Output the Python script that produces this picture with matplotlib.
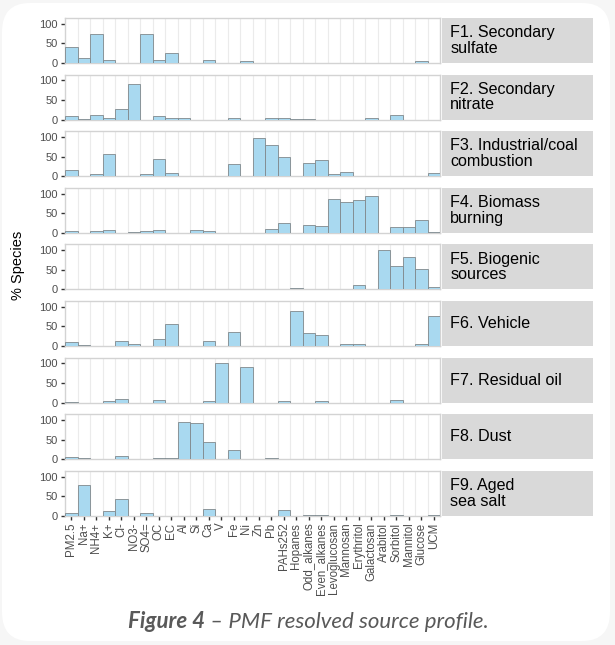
import matplotlib
matplotlib.use('Agg')
import matplotlib.pyplot as plt
from matplotlib.patches import FancyBboxPatch
import numpy as np

plt.rcParams['font.family'] = ['Liberation Sans', 'DejaVu Sans']

# ============ ДАННЫЕ ============
species = ['PM2.5', 'Na+', 'NH4+', 'K+', 'Cl-', 'NO3-', 'SO4=', 'OC', 'EC', 'Al',
           'Si', 'Ca', 'V', 'Fe', 'Ni', 'Zn', 'Pb', 'PAHs252', 'Hopanes',
           'Odd_alkanes', 'Even_alkanes', 'Levoglucosan', 'Mannosan', 'Erythritol',
           'Galactosan', 'Arabitol', 'Sorbitol', 'Mannitol', 'Glucose', 'UCM']

factor_labels = ['F1. Secondary\nsulfate', 'F2. Secondary\nnitrate',
                 'F3. Industrial/coal\ncombustion', 'F4. Biomass\nburning',
                 'F5. Biogenic\nsources', 'F6. Vehicle', 'F7. Residual oil',
                 'F8. Dust', 'F9. Aged\nsea salt']

f1 = [40, 12, 75, 8, 0, 0, 75, 8, 25, 0, 0, 8, 0, 0, 5, 0, 0, 0, 0, 0, 0, 0, 0, 0, 0, 0, 0, 0, 5, 0]
f2 = [10, 2, 12, 5, 27, 92, 0, 8, 5, 3, 0, 0, 0, 5, 0, 0, 3, 4, 2, 2, 0, 0, 0, 0, 4, 0, 13, 0, 0, 0]
f3 = [15, 0, 5, 58, 0, 0, 6, 43, 8, 0, 0, 0, 0, 32, 0, 97, 80, 50, 0, 35, 42, 6, 10, 0, 0, 0, 0, 0, 0, 8]
f4 = [5, 0, 5, 7, 0, 2, 5, 8, 0, 0, 7, 4, 0, 0, 0, 0, 10, 24, 0, 20, 17, 87, 78, 83, 95, 0, 15, 16, 32, 2]
f5 = [0, 0, 1, 0, 0, 0, 2, 0, 1, 0, 0, 2, 0, 1, 0, 0, 0, 0, 3, 1, 0, 0, 0, 11, 0, 100, 60, 82, 53, 5]
f6 = [9, 3, 0, 0, 12, 4, 1, 19, 57, 0, 0, 14, 0, 35, 1, 1, 0, 0, 90, 33, 28, 1, 4, 4, 0, 0, 0, 0, 6, 77]
f7 = [1, 0, 0, 5, 8, 0, 0, 7, 0, 0, 0, 5, 100, 0, 90, 0, 0, 3, 0, 0, 3, 0, 0, 0, 0, 0, 7, 0, 0, 0]
f8 = [6, 2, 0, 0, 7, 0, 0, 3, 2, 95, 92, 44, 0, 23, 0, 0, 3, 0, 0, 0, 0, 0, 1, 0, 0, 0, 0, 0, 0, 0]
f9 = [8, 78, 0, 12, 43, 0, 7, 0, 0, 0, 0, 18, 0, 0, 0, 0, 0, 15, 0, 2, 2, 0, 0, 0, 0, 0, 2, 0, 0, 1]

profiles = [f1, f2, f3, f4, f5, f6, f7, f8, f9]

# ============ ГЕОМЕТРИЯ (пиксели) ============
W, H = 615, 645
PANEL_L, PANEL_R = 65, 440
STRIP_L, STRIP_R = 442, 593
TOP0, PANEL_H, STEP = 18, 45, 56.6

fig = plt.figure(figsize=(W / 100, H / 100), dpi=100)
fig.patch.set_facecolor('#f6f6f6')

# белая подложка со скруглёнными углами
box = FancyBboxPatch((2 / W, 4 / H), 608 / W, 638 / H,
                     boxstyle='round,pad=0,rounding_size=0.045',
                     transform=fig.transFigure, facecolor='white',
                     edgecolor='none', zorder=-10)
fig.add_artist(box)

x = np.arange(len(species))

for i, (vals, lab) in enumerate(zip(profiles, factor_labels)):
    top = TOP0 + STEP * i
    bottom = top + PANEL_H
    ax = fig.add_axes([PANEL_L / W, 1 - bottom / H,
                       (PANEL_R - PANEL_L) / W, PANEL_H / H])
    vals = np.array(vals, dtype=float)
    nz = vals > 0
    ax.bar(x[nz], vals[nz], width=1.0, color='#a9d9f0',
           edgecolor='#80888c', linewidth=0.6, zorder=3)
    ax.set_xlim(-0.5, len(species) - 0.5)
    ax.set_ylim(0, 115)
    ax.set_yticks([0, 50, 100])
    ax.set_yticklabels(['0', '50', '100'], fontsize=8, color='#4d4d4d')
    ax.tick_params(axis='y', length=3, width=1, color='#333333', pad=2)
    # вертикальная сетка по границам столбцов
    for b in np.arange(0.5, len(species) - 0.5, 1):
        ax.axvline(b, color='#ebebeb', linewidth=0.8, zorder=1)
    for s in ax.spines.values():
        s.set_color('#d3d3d3')
        s.set_linewidth(1.0)
    ax.set_xticks(x)
    if i == len(profiles) - 1:
        ax.set_xticklabels(species, rotation=90, fontsize=8.3, color='#4d4d4d')
        ax.tick_params(axis='x', length=3, width=1, color='#333333', pad=2)
    else:
        ax.set_xticklabels([])
        ax.tick_params(axis='x', length=0)

    # полоска с подписью фактора
    sax = fig.add_axes([STRIP_L / W, 1 - bottom / H,
                        (STRIP_R - STRIP_L) / W, PANEL_H / H])
    sax.set_facecolor('#d9d9d9')
    for s in sax.spines.values():
        s.set_visible(False)
    sax.set_xticks([])
    sax.set_yticks([])
    sax.text(0.055, 0.5, lab, transform=sax.transAxes, ha='left', va='center',
             fontsize=11.6, color='black', linespacing=1.05)

fig.text(18 / W, 1 - 265 / H, '% Species', rotation=90, ha='center',
         va='center', fontsize=10.5, color='black')

# подпись рисунка
cap_y = 1 - 622 / H
t1 = fig.text(0.5, cap_y, 'Figure 4', fontsize=16, fontstyle='italic',
              fontweight='bold', color='#595959', ha='right', va='center',
              family=['Lato', 'DejaVu Sans'])
t2 = fig.text(0.5, cap_y, ' \u2013 PMF resolved source profile.', fontsize=16,
              fontstyle='italic', color='#595959', ha='left', va='center',
              family=['Lato', 'DejaVu Sans'])
fig.canvas.draw()
w1 = t1.get_window_extent().width
w2 = t2.get_window_extent().width
left = 308 - (w1 + w2) / 2
t1.set_x((left + w1) / W)
t2.set_x((left + w1) / W)

fig.savefig('out.png', dpi=100, facecolor=fig.get_facecolor())
